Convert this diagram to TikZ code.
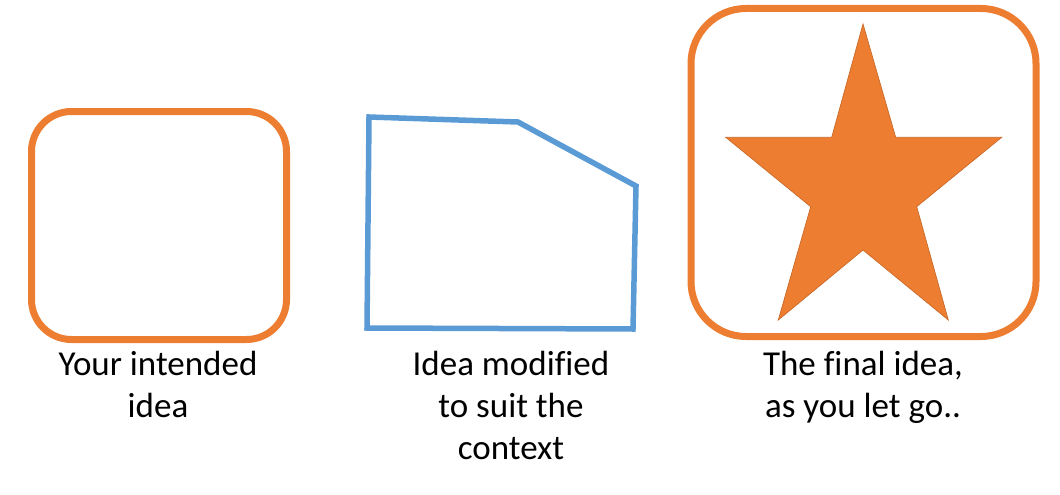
\documentclass[tikz,border=0pt]{standalone}
\usepackage{fontspec}
\setmainfont{Carlito}[Ligatures=CommonOff]
\usepackage{tikz}
\usetikzlibrary{positioning}

\definecolor{ideaorange}{HTML}{ED7D31}
\definecolor{ideablue}{HTML}{5B9BD5}

\begin{document}
\begin{tikzpicture}[x=1pt,y=-1pt,
        caption/.style={align=center,anchor=base,inner sep=0pt,
            font=\fontsize{35}{42}\selectfont}]
        \useasboundingbox (0,0) rectangle (1060,495);

        % the idea as intended
        \draw[ideaorange,line width=7pt,rounded corners=40pt]
            (31.5,111.5) rectangle (286.5,339.5);

        % modified shape
        \coordinate (A) at (369,117);
        \coordinate (B) at (518,122);
        \coordinate (C) at (636,186);
        \coordinate (D) at (633,329);
        \coordinate (E) at (367,328);
        \draw[ideablue,line width=5.5pt,line join=miter] (A)--(B)--(C)--(D)--(E)--cycle;

        % final idea
        \draw[ideaorange,line width=7pt,rounded corners=55pt]
            (691,8.5) rectangle (1036,336.5);
        \filldraw[fill=ideaorange,draw=ideaorange!85!black,line width=0.7pt]
            (863,24)--(895.7,137.3)--(1001.7,137.3)--(916.7,206.7)--(948.3,320)
            --(863,250)--(778.3,320)--(810.7,206.7)--(725.7,137.3)--(831.7,137.3)--cycle;

        % captions, placed at the baseline of their last line
        \node[caption] (intended) at (158,417) {Your intended\\idea};
        \node[caption] (modified) at (511,459) {Idea modified\\to suit the\\context};
        \node[caption] (final) at (863,417) {The final idea,\\as you let go..};
    \end{tikzpicture}
\end{document}
